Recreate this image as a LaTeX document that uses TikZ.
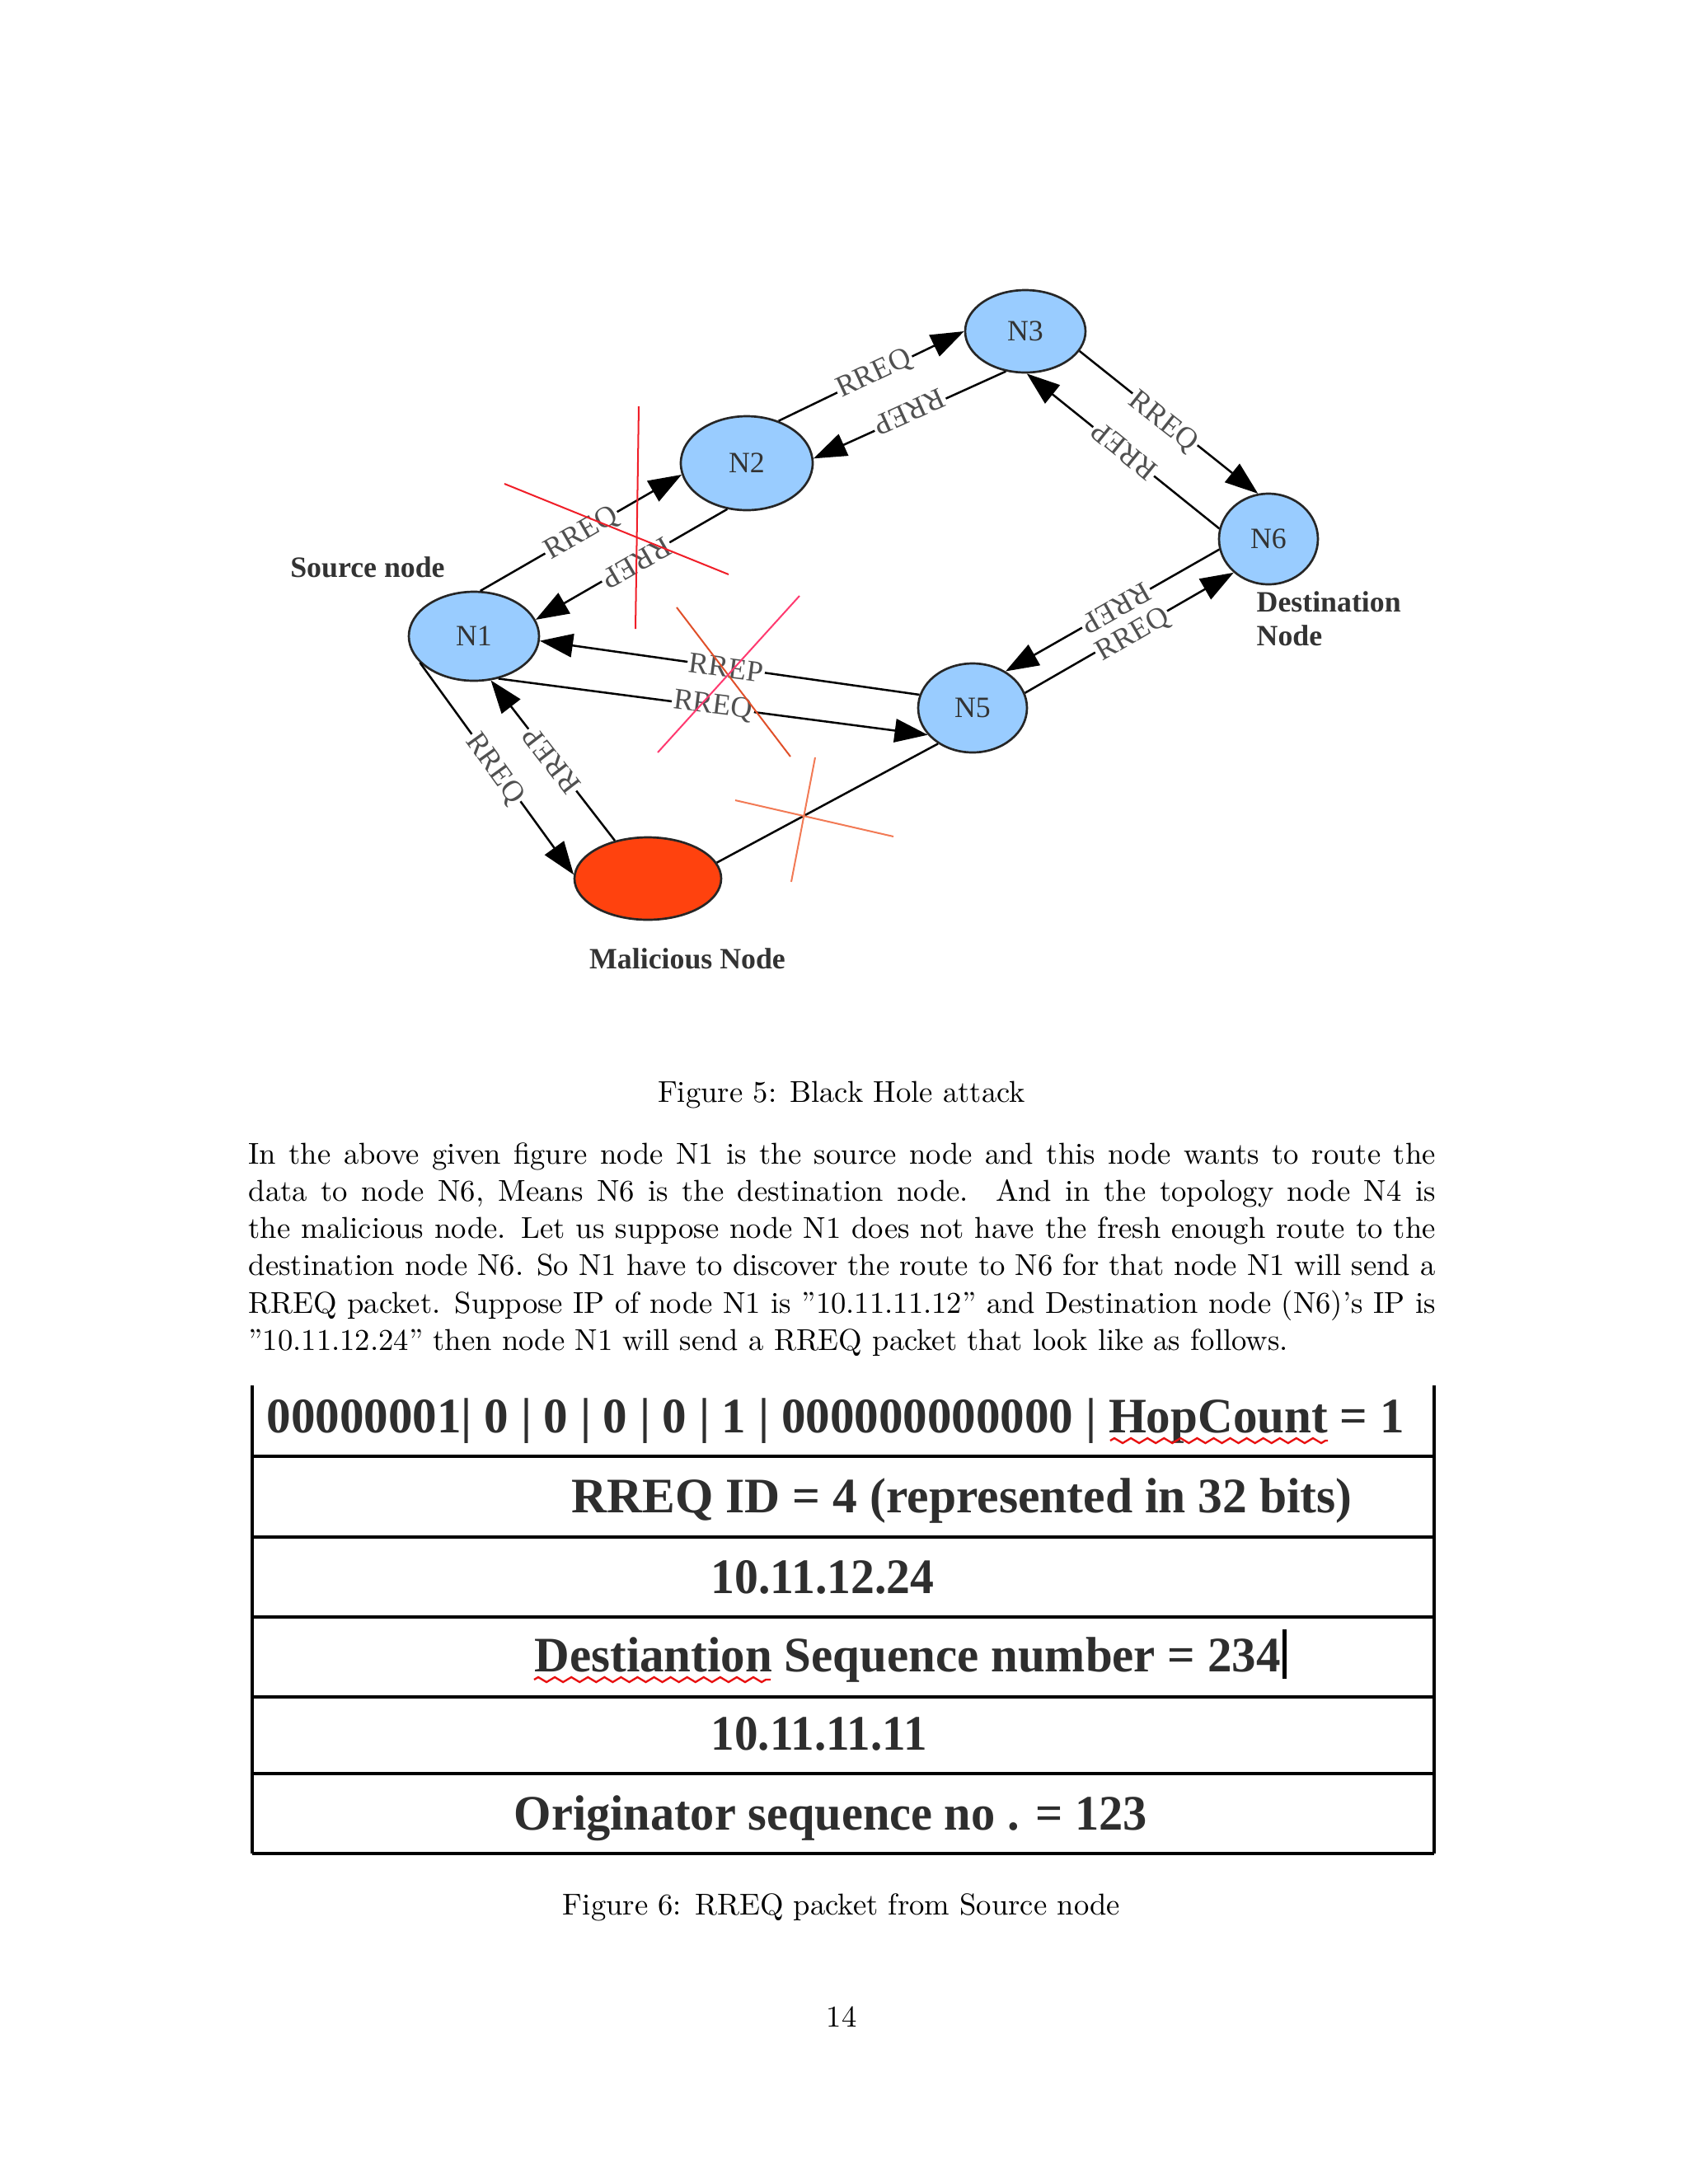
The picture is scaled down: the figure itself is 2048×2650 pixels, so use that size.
\documentclass[tikz,border=0pt]{standalone}
\usepackage{fontspec}
\usetikzlibrary{arrows.meta,shapes.geometric,decorations.pathmorphing}
\newfontfamily\libserif{Liberation Serif}
\definecolor{nodeblue}{HTML}{99CCFF}
\definecolor{malred}{HTML}{FF420E}
\definecolor{labgray}{HTML}{505050}
\definecolor{txtdark}{HTML}{333333}
\definecolor{crossred}{HTML}{F01E28}
\definecolor{crossorange}{HTML}{E0502A}
\definecolor{crosspink}{HTML}{FF3A70}
\definecolor{crosssalmon}{HTML}{F27A55}
\definecolor{wavered}{HTML}{E81010}
\newcommand\pxw[1]{\dimexpr0.298828pt*#1\relax}
\begin{document}
\begin{tikzpicture}[x=0.298828pt,y=-0.298828pt,
  netnode/.style={ellipse, draw=black!85, line width=0.8pt, fill=nodeblue, inner sep=0pt,
    font=\libserif\fontsize{10.7}{12}\selectfont, text=txtdark},
  nsize/.style 2 args={minimum width=#1*0.298828pt, minimum height=#2*0.298828pt},
  link/.style={line width=0.75pt, -{Triangle[length=12pt,width=8.5pt]}},
  plainlink/.style={line width=0.75pt},
  edgelabel/.style={font=\libserif\fontsize{10.8}{12}\selectfont, text=labgray, fill=white, inner sep=0.6pt},
  capt/.style={font=\fontsize{10.95}{13.6}\selectfont, anchor=base, inner sep=0pt},
  bodyline/.style={font=\fontsize{10.95}{13.6}\selectfont, anchor=base west, inner sep=0pt},
  tag/.style={font=\libserif\bfseries\fontsize{10.7}{12}\selectfont, text=txtdark, inner sep=0pt},
  cell/.style={font=\libserif\bfseries\fontsize{18}{20}\selectfont, text=black!82, anchor=base west, inner sep=0pt},
  tablerule/.style={line width=1pt},
  crossline/.style={line width=0.6pt},
  wave/.style={draw=wavered, line width=0.7pt, decorate, decoration={zigzag, segment length=6pt, amplitude=0.9pt}}
]
\useasboundingbox (0,0) rectangle (2048,2650);

% ---------- network nodes ----------
\node[netnode, nsize={158}{108}] (N1) at (575,772) {N1};
\node[netnode, nsize={160}{114}] (N2) at (906,562) {N2};
\node[netnode, nsize={146}{100}] (N3) at (1244,402) {N3};
\node[netnode, nsize={120}{110}] (N6) at (1539,654) {N6};
\node[netnode, nsize={132}{108}] (N5) at (1180,859) {N5};
\node[netnode, nsize={178}{100}, fill=malred] (M) at (786,1066) {};

% ---------- connectors ----------
\draw[link] (N1.82) -- (N2.190);
\draw[link] (N2.247) -- (N1.15);
\draw[link] (N2.53) -- (N3.180);
\draw[link] (N3.244) -- (N2.4);
\draw[link] (N3.340) -- (N6.103);
\draw[link] (N6.168) -- (N3.272);
\draw[link] (N6.192) -- (N5.48);
\draw[link] (N5.16) -- (N6.224);
\draw[link] (N5.166) -- (N1.356);
\draw[link] (N1.300) -- (N5.211);
\draw[link] (N1.206) -- (M.177);
\draw[link] (M.131) -- (N1.291);
\draw[plainlink] (M.13) -- (N5.226);

% ---------- connector labels ----------
\node[edgelabel, rotate=30] (l1) at (706,648) {RREQ};
\node[edgelabel, rotate=210] (l2) at (772,683) {RREP};
\node[edgelabel, rotate=25] (l3) at (1061,454) {RREQ};
\node[edgelabel, rotate=204.5] (l4) at (1103,500) {RREP};
\node[edgelabel, rotate=-38.2] (l5) at (1411,512) {RREQ};
\node[edgelabel, rotate=141] (l6) at (1364,547) {RREP};
\node[edgelabel, rotate=209.6] (l7) at (1354,738) {RREP};
\node[edgelabel, rotate=30] (l8) at (1375,771) {RREQ};
\node[edgelabel, rotate=-7.5] (l9) at (881,810) {RREP};
\node[edgelabel, rotate=-7.2] (l10) at (865,857) {RREQ};
\node[edgelabel, rotate=-54.3] (l11) at (600,933) {RREQ};
\node[edgelabel, rotate=127.8] (l12) at (669,923) {RREP};

% ---------- tags ----------
\node[tag] (src) at (446,688) {Source node};
\node[tag, anchor=base west, align=left] (dst) at (1524,783) {Destination\\Node};
\node[tag] (mal) at (834,1163) {Malicious Node};

% ---------- red crosses ----------
\draw[crossline, draw=crossred] (775,493) -- (771,763);
\draw[crossline, draw=crossred] (612,587) -- (884,697);
\draw[crossline, draw=crossorange] (821,737) -- (959,918);
\draw[crossline, draw=crosspink] (970,723) -- (798,913);
\draw[crossline, draw=crosssalmon] (892,971) -- (1084,1015);
\draw[crossline, draw=crosssalmon] (989,919) -- (960,1070);

% ---------- captions and text ----------
\node[capt] (cap5) at (1021,1337) {Figure 5: Black Hole attack};
\node[bodyline] (p1) at (301,1412) {\makebox[\pxw{1440}][s]{In the above given figure node N1 is the source node and this node wants to route the}};
\node[bodyline] (p2) at (301,1457) {\makebox[\pxw{1440}][s]{data to node N6, Means N6 is the destination node.\ \ And in the topology node N4 is}};
\node[bodyline] (p3) at (301,1502) {\makebox[\pxw{1440}][s]{the malicious node. Let us suppose node N1 does not have the fresh enough route to the}};
\node[bodyline] (p4) at (301,1547) {\makebox[\pxw{1440}][s]{destination node N6. So N1 have to discover the route to N6 for that node N1 will send a}};
\node[bodyline] (p5) at (301,1593) {\makebox[\pxw{1440}][s]{RREQ packet. Suppose IP of node N1 is ”10.11.11.12” and Destination node (N6)’s IP is}};
\node[bodyline] (p6) at (301,1638) {”10.11.12.24” then node N1 will send a RREQ packet that look like as follows.};

% ---------- packet table ----------
\draw[tablerule] (306,1681) -- (306,2249);
\draw[tablerule] (1740,1681) -- (1740,2249);
\foreach \yy in {1767,1865,1962,2059,2152,2249}
  \draw[tablerule] (306,\yy) -- (1740,\yy);

\node[cell] (r1) at (323,1738) {\resizebox{\pxw{1380}}{\height}{00000001| 0 | 0 | 0 | 0 | 1 | 000000000000 | HopCount = 1}};
\node[cell] (r2) at (693,1835) {\resizebox{\pxw{947}}{\height}{RREQ ID = 4 (represented in 32 bits)}};
\node[cell] (r3) at (862,1933) {\resizebox{\pxw{271}}{\height}{10.11.12.24}};
\node[cell] (r4) at (648,2028) {\resizebox{\pxw{905}}{\height}{Destiantion Sequence number = 234}};
\node[cell] (r5) at (862,2123) {\resizebox{\pxw{262}}{\height}{10.11.11.11}};
\node[cell] (r6) at (623,2220) {\resizebox{\pxw{768}}{\height}{Originator sequence no . = 123}};

\draw[wave] (1347,1748) -- (1611,1748);
\draw[wave] (648,2038) -- (935,2038);
\draw[line width=1.5pt] (1558,1977) -- (1558,2037);

\node[capt] (cap6) at (1021,2323) {Figure 6: RREQ packet from Source node};
\node[capt] (pg) at (1021,2459) {14};
\end{tikzpicture}
\end{document}
